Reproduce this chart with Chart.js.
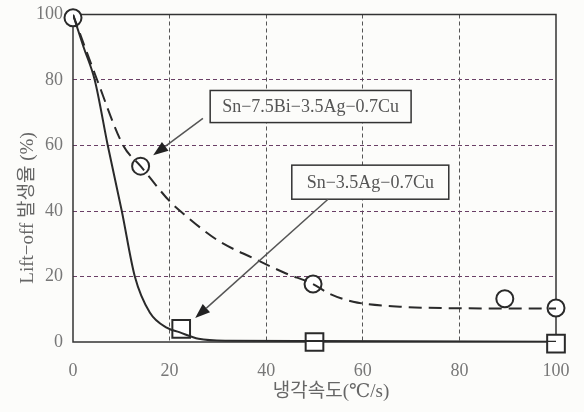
<!DOCTYPE html>
<html lang="ko">
<head>
<meta charset="UTF-8">
<title>Lift-off 발생율</title>
<script src="https://cdn.jsdelivr.net/npm/chart.js"></script>
<style>
  html, body { margin: 0; padding: 0; background: #fcfcfa; }
</style>
</head>
<body>
<canvas id="liftoff" width="584" height="412"></canvas>
<script>
    const xTicks = [0, 20, 40, 60, 80, 100];
    const yTicks = [0, 20, 40, 60, 80, 100];

    // Sn-7.5Bi-3.5Ag-0.7Cu (circles + dashed curve)
    const biPointsX = [0, 14, 49.7, 89.4, 100];
    const biPointsY = [99, 53.7, 17.7, 13.2, 10.4];
    const biCurveX = [0, 5, 10.4, 14, 20, 23, 30, 37.3, 44, 49.7, 53, 58, 67.7, 80, 100];
    const biCurveY = [100, 80, 60, 53.7, 43, 39, 31, 25.6, 21, 17.7, 14.8, 12.3, 10.8, 10.3, 10.2];

    // Sn-3.5Ag-0.7Cu (squares + solid curve)
    const agPointsX = [22.4, 50, 100];
    const agPointsY = [4, 0, -0.5];
    const agCurveX = [0, 2.2, 4.5, 7.2, 10.1, 12.8, 15.9, 19.5, 22, 26, 32, 50, 100];
    const agCurveY = [100, 90, 80, 60, 40, 20, 9, 4.3, 3, 1, 0.4, 0.3, 0.1];

    const calloutText = ['Sn\u22127.5Bi\u22123.5Ag\u22120.7Cu', 'Sn\u22123.5Ag\u22120.7Cu'];

    const xTitle = '냉각속도(℃/s)';
    const yTitle = 'Lift\u2212off 발생율 (%)';

    // callout boxes / arrows in data units
    const callouts = [
        {box: [28.4, 76.8, 70, 67], from: [26.9, 68.3], to: [16.6, 57]},
        {box: [45.3, 54, 77.8, 43.6], from: [52.8, 43.6], to: [25.3, 7.3]}
    ];

    const serif = '"Liberation Serif", "DejaVu Serif", "Noto Sans CJK KR", serif';
    const toXY = (xs, ys) => xs.map((x, i) => ({x: x, y: ys[i]}));

    const frameAndNotes = {
        id: 'frameAndNotes',
        beforeDatasetsDraw(chart) {
            const {ctx, chartArea: a} = chart;
            ctx.save();
            ctx.strokeStyle = '#333';
            ctx.lineWidth = 1.5;
            ctx.strokeRect(a.left, a.top, a.right - a.left, a.bottom - a.top);
            ctx.restore();
        },
        afterDatasetsDraw(chart) {
            const {ctx, scales: {x, y}} = chart;
            ctx.save();
            callouts.forEach((c, i) => {
                const x1 = x.getPixelForValue(c.box[0]), y1 = y.getPixelForValue(c.box[1]);
                const x2 = x.getPixelForValue(c.box[2]), y2 = y.getPixelForValue(c.box[3]);
                ctx.fillStyle = '#fcfcfa';
                ctx.fillRect(x1, y1, x2 - x1, y2 - y1);
                ctx.strokeStyle = '#333';
                ctx.lineWidth = 1.5;
                ctx.strokeRect(x1, y1, x2 - x1, y2 - y1);
                ctx.fillStyle = '#555';
                ctx.font = '18px ' + serif;
                ctx.textAlign = 'center';
                ctx.textBaseline = 'middle';
                ctx.fillText(calloutText[i], (x1 + x2) / 2, (y1 + y2) / 2 + 1);

                // arrow
                const fx = x.getPixelForValue(c.from[0]), fy = y.getPixelForValue(c.from[1]);
                const tx = x.getPixelForValue(c.to[0]), ty = y.getPixelForValue(c.to[1]);
                const ang = Math.atan2(ty - fy, tx - fx);
                const head = 15, half = 5.5;
                const bx = tx - head * Math.cos(ang), by = ty - head * Math.sin(ang);
                ctx.strokeStyle = '#555';
                ctx.lineWidth = 1.5;
                ctx.beginPath();
                ctx.moveTo(fx, fy);
                ctx.lineTo(bx, by);
                ctx.stroke();
                ctx.fillStyle = '#222';
                ctx.beginPath();
                ctx.moveTo(tx, ty);
                ctx.lineTo(bx + half * Math.sin(ang), by - half * Math.cos(ang));
                ctx.lineTo(bx - half * Math.sin(ang), by + half * Math.cos(ang));
                ctx.closePath();
                ctx.fill();
            });

            // axis titles
            ctx.fillStyle = '#666';
            ctx.textAlign = 'center';
            ctx.textBaseline = 'middle';
            ctx.font = '19px ' + serif;
            ctx.fillText(xTitle, 331, 392);
            ctx.translate(28, 208);
            ctx.rotate(-Math.PI / 2);
            ctx.font = '19px ' + serif;
            ctx.fillText(yTitle, 0, 0);
            ctx.restore();
        }
    };

    const gridColor = (col) => c => (c.tick && (c.tick.value === 0 || c.tick.value === 100)) ? 'rgba(0,0,0,0)' : col;

    new Chart(document.getElementById('liftoff'), {
        type: 'scatter',
        data: {
            datasets: [
                {
                    type: 'line',
                    label: 'Sn-7.5Bi-3.5Ag-0.7Cu curve',
                    data: toXY(biCurveX, biCurveY),
                    borderColor: '#2a2a2a',
                    borderWidth: 2,
                    borderDash: [13, 7],
                    pointRadius: 0,
                    cubicInterpolationMode: 'monotone',
                    fill: false
                },
                {
                    type: 'line',
                    label: 'Sn-3.5Ag-0.7Cu curve',
                    data: toXY(agCurveX, agCurveY),
                    borderColor: '#2a2a2a',
                    borderWidth: 2,
                    pointRadius: 0,
                    cubicInterpolationMode: 'monotone',
                    fill: false
                },
                {
                    label: 'Sn-7.5Bi-3.5Ag-0.7Cu',
                    data: toXY(biPointsX, biPointsY),
                    pointStyle: 'circle',
                    pointRadius: 8.5,
                    pointBorderWidth: 2,
                    pointBackgroundColor: '#fff',
                    pointBorderColor: '#2a2a2a',
                    clip: false
                },
                {
                    label: 'Sn-3.5Ag-0.7Cu',
                    data: toXY(agPointsX, agPointsY),
                    pointStyle: 'rect',
                    pointRadius: 12.5,
                    pointBorderWidth: 2,
                    pointBackgroundColor: '#fff',
                    pointBorderColor: '#2a2a2a',
                    clip: false
                }
            ]
        },
        options: {
            responsive: false,
            animation: false,
            layout: {padding: {left: 0, right: 28, top: 14, bottom: 0}},
            plugins: {legend: {display: false}, tooltip: {enabled: false}},
            scales: {
                x: {
                    type: 'linear',
                    min: 0,
                    max: 100,
                    afterBuildTicks: s => { s.ticks = xTicks.map(v => ({value: v})); },
                    afterFit: s => { s.height = 70; s.paddingLeft = 0; s.paddingRight = 0; },
                    grid: {color: gridColor('#555'), lineWidth: 1, drawTicks: false},
                    border: {display: false, dash: [4, 3]},
                    ticks: {padding: 18, color: '#777', font: {family: serif, size: 18}}
                },
                y: {
                    type: 'linear',
                    min: 0,
                    max: 100,
                    afterBuildTicks: s => { s.ticks = yTicks.map(v => ({value: v})); },
                    afterFit: s => { s.width = 73; s.paddingTop = 0; s.paddingBottom = 0; },
                    grid: {color: gridColor('#6a3f66'), lineWidth: 1, drawTicks: false},
                    border: {display: false, dash: [4, 3]},
                    ticks: {padding: 10, color: '#777', font: {family: serif, size: 18}}
                }
            }
        },
        plugins: [frameAndNotes]
    });
</script>
</body>
</html>
